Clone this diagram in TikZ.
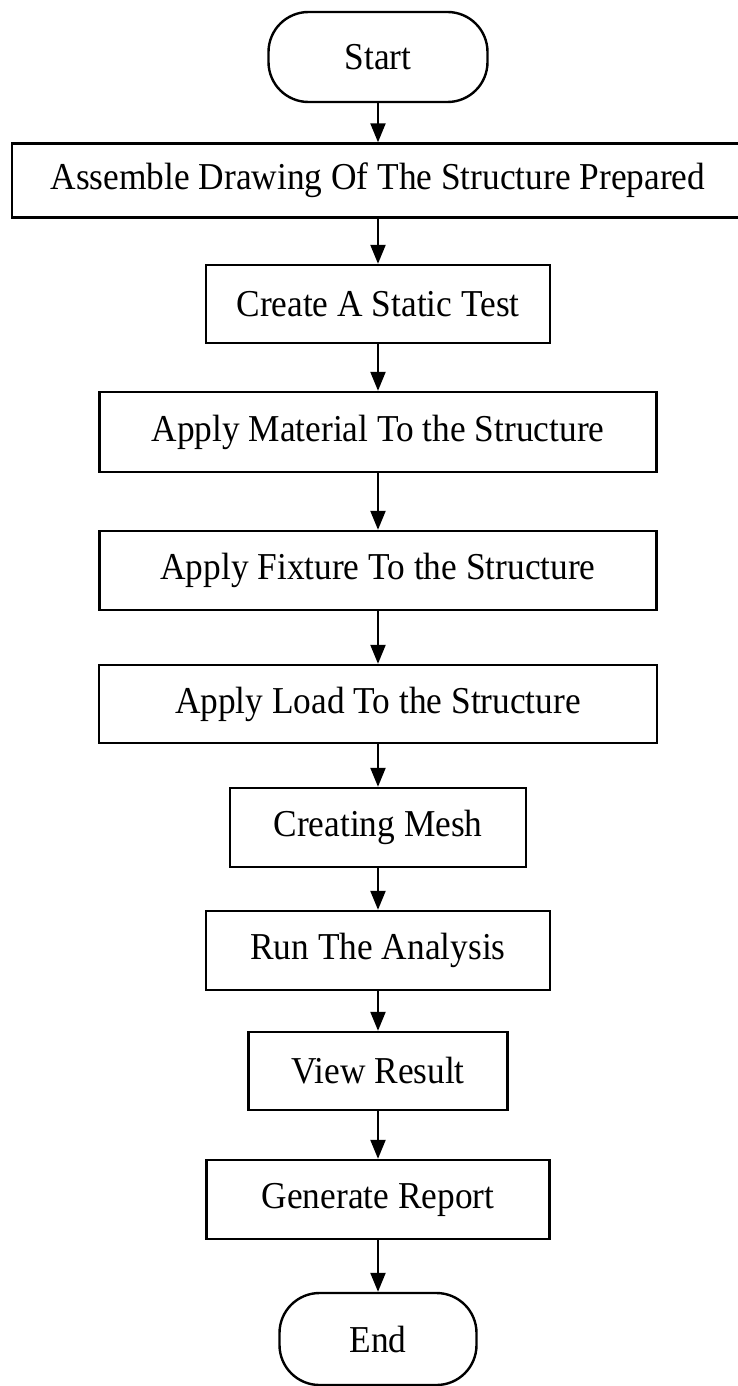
\documentclass[tikz,border=0pt]{standalone}
\usepackage{fontspec}
\setmainfont{Liberation Serif}[FakeStretch=0.93]
\usetikzlibrary{arrows.meta,positioning}

\begin{document}
\begin{tikzpicture}[x=1pt,y=-1pt,
			step node/.style={rectangle,draw,line width=2.4pt,inner sep=0pt,font=\fontsize{38}{42}\selectfont},
			term node/.style={step node,rounded corners=40pt},
			flow/.style={-{Triangle[width=15pt,length=19pt]},line width=2.2pt}
			]
			
			\useasboundingbox (0,0) rectangle (738,1386);
			
			\def \cx {378};
			
			\node[term node,minimum width=219pt,minimum height=90pt] at (\cx,57) (start) {Start};
			
			\foreach \y/\w/\h/\t [count=\s] in {
				180.5/732/74/Assemble Drawing Of The Structure Prepared,
				304/344/78/Create A Static Test,
				432/557/80/Apply Material To the Structure,
				570.5/557/79/Apply Fixture To the Structure,
				704/558/78/Apply Load To the Structure,
				827.5/296/79/Creating Mesh,
				950.5/344/79/Run The Analysis,
				1071/259/78/View Result,
				1199.5/343/79/Generate Report} {
				\node[step node,minimum width=\w pt,minimum height=\h pt] at (\cx,\y) (\s) {\t};
			}
			
			\node[term node,minimum width=197pt,minimum height=92pt] at (\cx,1339) (stop) {End};
			
			\draw[flow] (start) -- (1);
			\foreach \a/\b in {1/2,2/3,3/4,4/5,5/6,6/7,7/8,8/9} {
				\draw[flow] (\a) -- (\b);
			}
			\draw[flow] (9) -- (stop);
			\end{tikzpicture}
\end{document}
